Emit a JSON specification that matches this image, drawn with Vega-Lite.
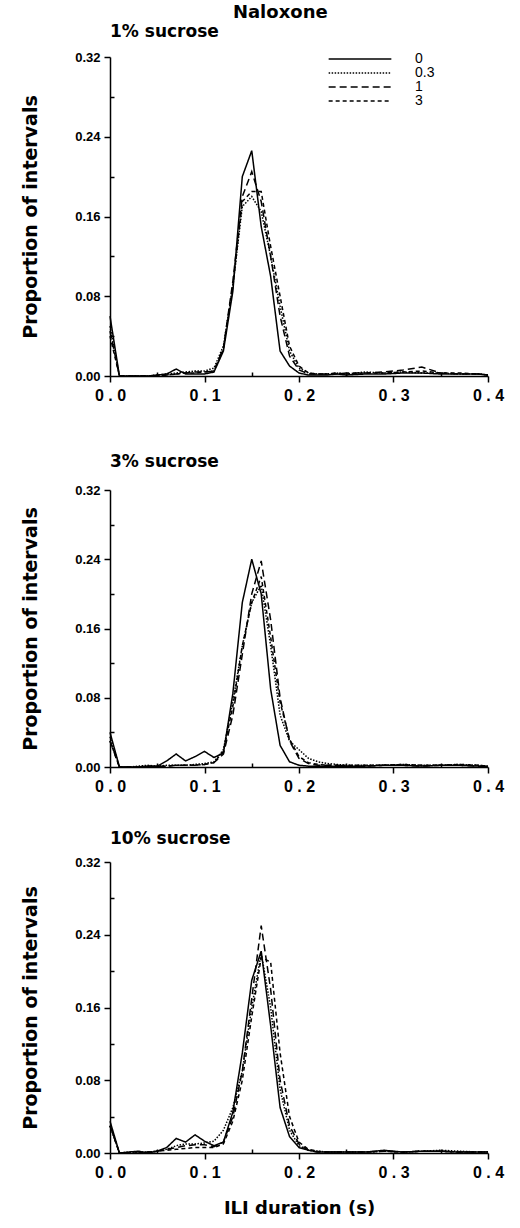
{
"$schema": "https://vega.github.io/schema/vega-lite/v6.json",
"padding": {"left": 20, "top": 4, "right": 10, "bottom": 5},
"title": {"text": "Naloxone", "fontSize": 18, "fontWeight": "bold", "anchor": "middle", "frame": "bounds", "offset": 1, "dx": 18, "font": "DejaVu Sans", "color": "black"},
"data": {"values": [
{"p":1,"d":"0","x":0,"y":0.06},{"p":1,"d":"0","x":0.01,"y":0},{"p":1,"d":"0","x":0.02,"y":0},{"p":1,"d":"0","x":0.03,"y":0},{"p":1,"d":"0","x":0.04,"y":0},{"p":1,"d":"0","x":0.05,"y":0.001},{"p":1,"d":"0","x":0.06,"y":0.002},{"p":1,"d":"0","x":0.07,"y":0.007},{"p":1,"d":"0","x":0.08,"y":0.002},{"p":1,"d":"0","x":0.09,"y":0.002},{"p":1,"d":"0","x":0.1,"y":0.002},{"p":1,"d":"0","x":0.11,"y":0.004},{"p":1,"d":"0","x":0.12,"y":0.025},{"p":1,"d":"0","x":0.13,"y":0.085},{"p":1,"d":"0","x":0.14,"y":0.2},{"p":1,"d":"0","x":0.15,"y":0.226},{"p":1,"d":"0","x":0.16,"y":0.15},{"p":1,"d":"0","x":0.17,"y":0.1},{"p":1,"d":"0","x":0.18,"y":0.025},{"p":1,"d":"0","x":0.19,"y":0.01},{"p":1,"d":"0","x":0.2,"y":0.003},{"p":1,"d":"0","x":0.21,"y":0.001},{"p":1,"d":"0","x":0.22,"y":0.001},{"p":1,"d":"0","x":0.23,"y":0.001},{"p":1,"d":"0","x":0.24,"y":0.002},{"p":1,"d":"0","x":0.25,"y":0.001},{"p":1,"d":"0","x":0.27,"y":0.002},{"p":1,"d":"0","x":0.29,"y":0.002},{"p":1,"d":"0","x":0.31,"y":0.003},{"p":1,"d":"0","x":0.33,"y":0.003},{"p":1,"d":"0","x":0.35,"y":0.002},{"p":1,"d":"0","x":0.37,"y":0.002},{"p":1,"d":"0","x":0.39,"y":0.002},{"p":1,"d":"0","x":0.4,"y":0.001},
{"p":1,"d":"0.3","x":0,"y":0.05},{"p":1,"d":"0.3","x":0.01,"y":0},{"p":1,"d":"0.3","x":0.02,"y":0},{"p":1,"d":"0.3","x":0.03,"y":0},{"p":1,"d":"0.3","x":0.04,"y":0},{"p":1,"d":"0.3","x":0.05,"y":0.001},{"p":1,"d":"0.3","x":0.06,"y":0.002},{"p":1,"d":"0.3","x":0.07,"y":0.003},{"p":1,"d":"0.3","x":0.08,"y":0.004},{"p":1,"d":"0.3","x":0.09,"y":0.005},{"p":1,"d":"0.3","x":0.1,"y":0.005},{"p":1,"d":"0.3","x":0.11,"y":0.008},{"p":1,"d":"0.3","x":0.12,"y":0.03},{"p":1,"d":"0.3","x":0.13,"y":0.09},{"p":1,"d":"0.3","x":0.14,"y":0.17},{"p":1,"d":"0.3","x":0.15,"y":0.18},{"p":1,"d":"0.3","x":0.16,"y":0.165},{"p":1,"d":"0.3","x":0.17,"y":0.12},{"p":1,"d":"0.3","x":0.18,"y":0.07},{"p":1,"d":"0.3","x":0.19,"y":0.025},{"p":1,"d":"0.3","x":0.2,"y":0.008},{"p":1,"d":"0.3","x":0.21,"y":0.003},{"p":1,"d":"0.3","x":0.22,"y":0.002},{"p":1,"d":"0.3","x":0.23,"y":0.002},{"p":1,"d":"0.3","x":0.24,"y":0.003},{"p":1,"d":"0.3","x":0.25,"y":0.002},{"p":1,"d":"0.3","x":0.27,"y":0.004},{"p":1,"d":"0.3","x":0.29,"y":0.003},{"p":1,"d":"0.3","x":0.31,"y":0.004},{"p":1,"d":"0.3","x":0.33,"y":0.003},{"p":1,"d":"0.3","x":0.35,"y":0.003},{"p":1,"d":"0.3","x":0.37,"y":0.002},{"p":1,"d":"0.3","x":0.39,"y":0.002},{"p":1,"d":"0.3","x":0.4,"y":0.001},
{"p":1,"d":"1","x":0,"y":0.045},{"p":1,"d":"1","x":0.01,"y":0},{"p":1,"d":"1","x":0.02,"y":0},{"p":1,"d":"1","x":0.03,"y":0},{"p":1,"d":"1","x":0.04,"y":0},{"p":1,"d":"1","x":0.05,"y":0},{"p":1,"d":"1","x":0.06,"y":0.001},{"p":1,"d":"1","x":0.07,"y":0.002},{"p":1,"d":"1","x":0.08,"y":0.003},{"p":1,"d":"1","x":0.09,"y":0.004},{"p":1,"d":"1","x":0.1,"y":0.004},{"p":1,"d":"1","x":0.11,"y":0.005},{"p":1,"d":"1","x":0.12,"y":0.028},{"p":1,"d":"1","x":0.13,"y":0.095},{"p":1,"d":"1","x":0.14,"y":0.18},{"p":1,"d":"1","x":0.15,"y":0.205},{"p":1,"d":"1","x":0.16,"y":0.175},{"p":1,"d":"1","x":0.17,"y":0.12},{"p":1,"d":"1","x":0.18,"y":0.06},{"p":1,"d":"1","x":0.19,"y":0.02},{"p":1,"d":"1","x":0.2,"y":0.006},{"p":1,"d":"1","x":0.21,"y":0.002},{"p":1,"d":"1","x":0.22,"y":0.002},{"p":1,"d":"1","x":0.23,"y":0.002},{"p":1,"d":"1","x":0.24,"y":0.002},{"p":1,"d":"1","x":0.25,"y":0.003},{"p":1,"d":"1","x":0.27,"y":0.003},{"p":1,"d":"1","x":0.29,"y":0.004},{"p":1,"d":"1","x":0.31,"y":0.006},{"p":1,"d":"1","x":0.33,"y":0.009},{"p":1,"d":"1","x":0.35,"y":0.003},{"p":1,"d":"1","x":0.37,"y":0.002},{"p":1,"d":"1","x":0.39,"y":0.002},{"p":1,"d":"1","x":0.4,"y":0.001},
{"p":1,"d":"3","x":0,"y":0.04},{"p":1,"d":"3","x":0.01,"y":0},{"p":1,"d":"3","x":0.02,"y":0},{"p":1,"d":"3","x":0.03,"y":0},{"p":1,"d":"3","x":0.04,"y":0},{"p":1,"d":"3","x":0.05,"y":0},{"p":1,"d":"3","x":0.06,"y":0.001},{"p":1,"d":"3","x":0.07,"y":0.002},{"p":1,"d":"3","x":0.08,"y":0.003},{"p":1,"d":"3","x":0.09,"y":0.003},{"p":1,"d":"3","x":0.1,"y":0.004},{"p":1,"d":"3","x":0.11,"y":0.005},{"p":1,"d":"3","x":0.12,"y":0.027},{"p":1,"d":"3","x":0.13,"y":0.09},{"p":1,"d":"3","x":0.14,"y":0.175},{"p":1,"d":"3","x":0.15,"y":0.185},{"p":1,"d":"3","x":0.16,"y":0.185},{"p":1,"d":"3","x":0.17,"y":0.13},{"p":1,"d":"3","x":0.18,"y":0.08},{"p":1,"d":"3","x":0.19,"y":0.03},{"p":1,"d":"3","x":0.2,"y":0.01},{"p":1,"d":"3","x":0.21,"y":0.003},{"p":1,"d":"3","x":0.22,"y":0.002},{"p":1,"d":"3","x":0.23,"y":0.002},{"p":1,"d":"3","x":0.24,"y":0.003},{"p":1,"d":"3","x":0.25,"y":0.002},{"p":1,"d":"3","x":0.27,"y":0.003},{"p":1,"d":"3","x":0.29,"y":0.003},{"p":1,"d":"3","x":0.31,"y":0.004},{"p":1,"d":"3","x":0.33,"y":0.005},{"p":1,"d":"3","x":0.35,"y":0.003},{"p":1,"d":"3","x":0.37,"y":0.003},{"p":1,"d":"3","x":0.39,"y":0.002},{"p":1,"d":"3","x":0.4,"y":0.001},
{"p":3,"d":"0","x":0,"y":0.04},{"p":3,"d":"0","x":0.01,"y":0},{"p":3,"d":"0","x":0.02,"y":0},{"p":3,"d":"0","x":0.03,"y":0},{"p":3,"d":"0","x":0.04,"y":0.001},{"p":3,"d":"0","x":0.05,"y":0.001},{"p":3,"d":"0","x":0.06,"y":0.007},{"p":3,"d":"0","x":0.07,"y":0.015},{"p":3,"d":"0","x":0.08,"y":0.007},{"p":3,"d":"0","x":0.09,"y":0.012},{"p":3,"d":"0","x":0.1,"y":0.018},{"p":3,"d":"0","x":0.11,"y":0.011},{"p":3,"d":"0","x":0.12,"y":0.016},{"p":3,"d":"0","x":0.13,"y":0.085},{"p":3,"d":"0","x":0.14,"y":0.19},{"p":3,"d":"0","x":0.15,"y":0.24},{"p":3,"d":"0","x":0.16,"y":0.2},{"p":3,"d":"0","x":0.17,"y":0.09},{"p":3,"d":"0","x":0.18,"y":0.025},{"p":3,"d":"0","x":0.19,"y":0.006},{"p":3,"d":"0","x":0.2,"y":0.002},{"p":3,"d":"0","x":0.21,"y":0.001},{"p":3,"d":"0","x":0.22,"y":0.001},{"p":3,"d":"0","x":0.23,"y":0.001},{"p":3,"d":"0","x":0.24,"y":0.001},{"p":3,"d":"0","x":0.25,"y":0.001},{"p":3,"d":"0","x":0.27,"y":0.001},{"p":3,"d":"0","x":0.29,"y":0.002},{"p":3,"d":"0","x":0.31,"y":0.002},{"p":3,"d":"0","x":0.33,"y":0.001},{"p":3,"d":"0","x":0.35,"y":0.002},{"p":3,"d":"0","x":0.37,"y":0.002},{"p":3,"d":"0","x":0.39,"y":0.001},{"p":3,"d":"0","x":0.4,"y":0.001},
{"p":3,"d":"0.3","x":0,"y":0.035},{"p":3,"d":"0.3","x":0.01,"y":0},{"p":3,"d":"0.3","x":0.02,"y":0},{"p":3,"d":"0.3","x":0.03,"y":0.001},{"p":3,"d":"0.3","x":0.04,"y":0.002},{"p":3,"d":"0.3","x":0.05,"y":0.001},{"p":3,"d":"0.3","x":0.06,"y":0.002},{"p":3,"d":"0.3","x":0.07,"y":0.002},{"p":3,"d":"0.3","x":0.08,"y":0.002},{"p":3,"d":"0.3","x":0.09,"y":0.003},{"p":3,"d":"0.3","x":0.1,"y":0.004},{"p":3,"d":"0.3","x":0.11,"y":0.006},{"p":3,"d":"0.3","x":0.12,"y":0.02},{"p":3,"d":"0.3","x":0.13,"y":0.075},{"p":3,"d":"0.3","x":0.14,"y":0.14},{"p":3,"d":"0.3","x":0.15,"y":0.19},{"p":3,"d":"0.3","x":0.16,"y":0.21},{"p":3,"d":"0.3","x":0.17,"y":0.14},{"p":3,"d":"0.3","x":0.18,"y":0.06},{"p":3,"d":"0.3","x":0.19,"y":0.03},{"p":3,"d":"0.3","x":0.2,"y":0.02},{"p":3,"d":"0.3","x":0.21,"y":0.01},{"p":3,"d":"0.3","x":0.22,"y":0.006},{"p":3,"d":"0.3","x":0.23,"y":0.004},{"p":3,"d":"0.3","x":0.24,"y":0.003},{"p":3,"d":"0.3","x":0.25,"y":0.002},{"p":3,"d":"0.3","x":0.27,"y":0.002},{"p":3,"d":"0.3","x":0.29,"y":0.002},{"p":3,"d":"0.3","x":0.31,"y":0.003},{"p":3,"d":"0.3","x":0.33,"y":0.002},{"p":3,"d":"0.3","x":0.35,"y":0.002},{"p":3,"d":"0.3","x":0.37,"y":0.003},{"p":3,"d":"0.3","x":0.39,"y":0.002},{"p":3,"d":"0.3","x":0.4,"y":0.001},
{"p":3,"d":"1","x":0,"y":0.03},{"p":3,"d":"1","x":0.01,"y":0},{"p":3,"d":"1","x":0.02,"y":0},{"p":3,"d":"1","x":0.03,"y":0},{"p":3,"d":"1","x":0.04,"y":0.001},{"p":3,"d":"1","x":0.05,"y":0.001},{"p":3,"d":"1","x":0.06,"y":0.001},{"p":3,"d":"1","x":0.07,"y":0.002},{"p":3,"d":"1","x":0.08,"y":0.002},{"p":3,"d":"1","x":0.09,"y":0.002},{"p":3,"d":"1","x":0.1,"y":0.003},{"p":3,"d":"1","x":0.11,"y":0.005},{"p":3,"d":"1","x":0.12,"y":0.015},{"p":3,"d":"1","x":0.13,"y":0.06},{"p":3,"d":"1","x":0.14,"y":0.13},{"p":3,"d":"1","x":0.15,"y":0.2},{"p":3,"d":"1","x":0.16,"y":0.238},{"p":3,"d":"1","x":0.17,"y":0.17},{"p":3,"d":"1","x":0.18,"y":0.08},{"p":3,"d":"1","x":0.19,"y":0.03},{"p":3,"d":"1","x":0.2,"y":0.01},{"p":3,"d":"1","x":0.21,"y":0.004},{"p":3,"d":"1","x":0.22,"y":0.002},{"p":3,"d":"1","x":0.23,"y":0.002},{"p":3,"d":"1","x":0.24,"y":0.002},{"p":3,"d":"1","x":0.25,"y":0.001},{"p":3,"d":"1","x":0.27,"y":0.001},{"p":3,"d":"1","x":0.29,"y":0.002},{"p":3,"d":"1","x":0.31,"y":0.002},{"p":3,"d":"1","x":0.33,"y":0.001},{"p":3,"d":"1","x":0.35,"y":0.002},{"p":3,"d":"1","x":0.37,"y":0.002},{"p":3,"d":"1","x":0.39,"y":0.001},{"p":3,"d":"1","x":0.4,"y":0.001},
{"p":3,"d":"3","x":0,"y":0.03},{"p":3,"d":"3","x":0.01,"y":0},{"p":3,"d":"3","x":0.02,"y":0},{"p":3,"d":"3","x":0.03,"y":0},{"p":3,"d":"3","x":0.04,"y":0.001},{"p":3,"d":"3","x":0.05,"y":0.001},{"p":3,"d":"3","x":0.06,"y":0.001},{"p":3,"d":"3","x":0.07,"y":0.002},{"p":3,"d":"3","x":0.08,"y":0.002},{"p":3,"d":"3","x":0.09,"y":0.002},{"p":3,"d":"3","x":0.1,"y":0.003},{"p":3,"d":"3","x":0.11,"y":0.005},{"p":3,"d":"3","x":0.12,"y":0.018},{"p":3,"d":"3","x":0.13,"y":0.07},{"p":3,"d":"3","x":0.14,"y":0.14},{"p":3,"d":"3","x":0.15,"y":0.19},{"p":3,"d":"3","x":0.16,"y":0.22},{"p":3,"d":"3","x":0.17,"y":0.15},{"p":3,"d":"3","x":0.18,"y":0.075},{"p":3,"d":"3","x":0.19,"y":0.032},{"p":3,"d":"3","x":0.2,"y":0.012},{"p":3,"d":"3","x":0.21,"y":0.005},{"p":3,"d":"3","x":0.22,"y":0.003},{"p":3,"d":"3","x":0.23,"y":0.002},{"p":3,"d":"3","x":0.24,"y":0.002},{"p":3,"d":"3","x":0.25,"y":0.002},{"p":3,"d":"3","x":0.27,"y":0.002},{"p":3,"d":"3","x":0.29,"y":0.002},{"p":3,"d":"3","x":0.31,"y":0.003},{"p":3,"d":"3","x":0.33,"y":0.002},{"p":3,"d":"3","x":0.35,"y":0.002},{"p":3,"d":"3","x":0.37,"y":0.003},{"p":3,"d":"3","x":0.39,"y":0.002},{"p":3,"d":"3","x":0.4,"y":0.001},
{"p":10,"d":"0","x":0,"y":0.035},{"p":10,"d":"0","x":0.01,"y":0},{"p":10,"d":"0","x":0.02,"y":0.001},{"p":10,"d":"0","x":0.03,"y":0.002},{"p":10,"d":"0","x":0.04,"y":0},{"p":10,"d":"0","x":0.05,"y":0.002},{"p":10,"d":"0","x":0.06,"y":0.006},{"p":10,"d":"0","x":0.07,"y":0.016},{"p":10,"d":"0","x":0.08,"y":0.012},{"p":10,"d":"0","x":0.09,"y":0.02},{"p":10,"d":"0","x":0.1,"y":0.013},{"p":10,"d":"0","x":0.11,"y":0.008},{"p":10,"d":"0","x":0.12,"y":0.012},{"p":10,"d":"0","x":0.13,"y":0.045},{"p":10,"d":"0","x":0.14,"y":0.11},{"p":10,"d":"0","x":0.15,"y":0.19},{"p":10,"d":"0","x":0.16,"y":0.222},{"p":10,"d":"0","x":0.17,"y":0.14},{"p":10,"d":"0","x":0.18,"y":0.05},{"p":10,"d":"0","x":0.19,"y":0.018},{"p":10,"d":"0","x":0.2,"y":0.006},{"p":10,"d":"0","x":0.21,"y":0.003},{"p":10,"d":"0","x":0.22,"y":0.001},{"p":10,"d":"0","x":0.23,"y":0.001},{"p":10,"d":"0","x":0.24,"y":0.001},{"p":10,"d":"0","x":0.25,"y":0.001},{"p":10,"d":"0","x":0.27,"y":0.001},{"p":10,"d":"0","x":0.29,"y":0.003},{"p":10,"d":"0","x":0.31,"y":0.001},{"p":10,"d":"0","x":0.33,"y":0.002},{"p":10,"d":"0","x":0.35,"y":0.002},{"p":10,"d":"0","x":0.37,"y":0.001},{"p":10,"d":"0","x":0.39,"y":0.001},{"p":10,"d":"0","x":0.4,"y":0.001},
{"p":10,"d":"0.3","x":0,"y":0.03},{"p":10,"d":"0.3","x":0.01,"y":0},{"p":10,"d":"0.3","x":0.02,"y":0.001},{"p":10,"d":"0.3","x":0.03,"y":0.001},{"p":10,"d":"0.3","x":0.04,"y":0.001},{"p":10,"d":"0.3","x":0.05,"y":0.002},{"p":10,"d":"0.3","x":0.06,"y":0.004},{"p":10,"d":"0.3","x":0.07,"y":0.008},{"p":10,"d":"0.3","x":0.08,"y":0.01},{"p":10,"d":"0.3","x":0.09,"y":0.01},{"p":10,"d":"0.3","x":0.1,"y":0.011},{"p":10,"d":"0.3","x":0.11,"y":0.013},{"p":10,"d":"0.3","x":0.12,"y":0.025},{"p":10,"d":"0.3","x":0.13,"y":0.05},{"p":10,"d":"0.3","x":0.14,"y":0.09},{"p":10,"d":"0.3","x":0.15,"y":0.16},{"p":10,"d":"0.3","x":0.16,"y":0.22},{"p":10,"d":"0.3","x":0.17,"y":0.16},{"p":10,"d":"0.3","x":0.18,"y":0.07},{"p":10,"d":"0.3","x":0.19,"y":0.025},{"p":10,"d":"0.3","x":0.2,"y":0.008},{"p":10,"d":"0.3","x":0.21,"y":0.003},{"p":10,"d":"0.3","x":0.22,"y":0.002},{"p":10,"d":"0.3","x":0.23,"y":0.001},{"p":10,"d":"0.3","x":0.24,"y":0.001},{"p":10,"d":"0.3","x":0.25,"y":0.001},{"p":10,"d":"0.3","x":0.27,"y":0.001},{"p":10,"d":"0.3","x":0.29,"y":0.002},{"p":10,"d":"0.3","x":0.31,"y":0.001},{"p":10,"d":"0.3","x":0.33,"y":0.002},{"p":10,"d":"0.3","x":0.35,"y":0.003},{"p":10,"d":"0.3","x":0.37,"y":0.002},{"p":10,"d":"0.3","x":0.39,"y":0.001},{"p":10,"d":"0.3","x":0.4,"y":0.001},
{"p":10,"d":"1","x":0,"y":0.03},{"p":10,"d":"1","x":0.01,"y":0},{"p":10,"d":"1","x":0.02,"y":0},{"p":10,"d":"1","x":0.03,"y":0},{"p":10,"d":"1","x":0.04,"y":0.001},{"p":10,"d":"1","x":0.05,"y":0.002},{"p":10,"d":"1","x":0.06,"y":0.004},{"p":10,"d":"1","x":0.07,"y":0.006},{"p":10,"d":"1","x":0.08,"y":0.008},{"p":10,"d":"1","x":0.09,"y":0.009},{"p":10,"d":"1","x":0.1,"y":0.009},{"p":10,"d":"1","x":0.11,"y":0.007},{"p":10,"d":"1","x":0.12,"y":0.012},{"p":10,"d":"1","x":0.13,"y":0.04},{"p":10,"d":"1","x":0.14,"y":0.09},{"p":10,"d":"1","x":0.15,"y":0.17},{"p":10,"d":"1","x":0.16,"y":0.25},{"p":10,"d":"1","x":0.17,"y":0.18},{"p":10,"d":"1","x":0.18,"y":0.08},{"p":10,"d":"1","x":0.19,"y":0.03},{"p":10,"d":"1","x":0.2,"y":0.01},{"p":10,"d":"1","x":0.21,"y":0.003},{"p":10,"d":"1","x":0.22,"y":0.001},{"p":10,"d":"1","x":0.23,"y":0.001},{"p":10,"d":"1","x":0.24,"y":0.001},{"p":10,"d":"1","x":0.25,"y":0.001},{"p":10,"d":"1","x":0.27,"y":0.001},{"p":10,"d":"1","x":0.29,"y":0.002},{"p":10,"d":"1","x":0.31,"y":0.001},{"p":10,"d":"1","x":0.33,"y":0.002},{"p":10,"d":"1","x":0.35,"y":0.002},{"p":10,"d":"1","x":0.37,"y":0.001},{"p":10,"d":"1","x":0.39,"y":0.001},{"p":10,"d":"1","x":0.4,"y":0.001},
{"p":10,"d":"3","x":0,"y":0.03},{"p":10,"d":"3","x":0.01,"y":0},{"p":10,"d":"3","x":0.02,"y":0},{"p":10,"d":"3","x":0.03,"y":0},{"p":10,"d":"3","x":0.04,"y":0.001},{"p":10,"d":"3","x":0.05,"y":0.002},{"p":10,"d":"3","x":0.06,"y":0.003},{"p":10,"d":"3","x":0.07,"y":0.004},{"p":10,"d":"3","x":0.08,"y":0.005},{"p":10,"d":"3","x":0.09,"y":0.006},{"p":10,"d":"3","x":0.1,"y":0.006},{"p":10,"d":"3","x":0.11,"y":0.006},{"p":10,"d":"3","x":0.12,"y":0.01},{"p":10,"d":"3","x":0.13,"y":0.035},{"p":10,"d":"3","x":0.14,"y":0.08},{"p":10,"d":"3","x":0.15,"y":0.15},{"p":10,"d":"3","x":0.16,"y":0.215},{"p":10,"d":"3","x":0.17,"y":0.21},{"p":10,"d":"3","x":0.18,"y":0.11},{"p":10,"d":"3","x":0.19,"y":0.04},{"p":10,"d":"3","x":0.2,"y":0.012},{"p":10,"d":"3","x":0.21,"y":0.004},{"p":10,"d":"3","x":0.22,"y":0.002},{"p":10,"d":"3","x":0.23,"y":0.001},{"p":10,"d":"3","x":0.24,"y":0.001},{"p":10,"d":"3","x":0.25,"y":0.001},{"p":10,"d":"3","x":0.27,"y":0.001},{"p":10,"d":"3","x":0.29,"y":0.002},{"p":10,"d":"3","x":0.31,"y":0.001},{"p":10,"d":"3","x":0.33,"y":0.002},{"p":10,"d":"3","x":0.35,"y":0.002},{"p":10,"d":"3","x":0.37,"y":0.001},{"p":10,"d":"3","x":0.39,"y":0.001},{"p":10,"d":"3","x":0.4,"y":0.001}
]},
"spacing": 50,
"resolve": {"legend": {"strokeDash": "independent"}},
"vconcat": [
{
 "width": 378, "height": 319,
 "title": {"text": "1% sucrose", "offset": 10},
 "transform": [{"filter": "datum.p == 1"}],
 "mark": {"type": "line", "color": "black", "strokeWidth": 1.5},
 "encoding": {
  "x": {"field": "x", "type": "quantitative", "scale": {"domain": [0, 0.4], "nice": false}, "axis": {"title": null, "values": [0, 0.05, 0.1, 0.15, 0.2, 0.25, 0.3, 0.35, 0.4]}},
  "y": {"field": "y", "type": "quantitative", "scale": {"domain": [0, 0.32], "nice": false}, "axis": {"title": "Proportion of intervals", "values": [0, 0.04, 0.08, 0.12, 0.16, 0.2, 0.24, 0.28, 0.32]}},
  "strokeDash": {"field": "d", "type": "nominal", "scale": {"domain": ["0", "0.3", "1", "3"], "range": [[1, 0], [1.5, 1.5], [7, 4], [4, 3]]},
   "legend": {"orient": "none", "legendX": 243, "legendY": -5, "title": null, "symbolType": "M-5.7,0H5.7", "symbolSize": 121, "symbolStrokeWidth": 1.5, "symbolStrokeColor": "black", "symbolFillColor": "transparent", "labelOffset": 48, "labelFontSize": 14, "labelFont": "Liberation Sans", "labelColor": "black", "rowPadding": 0, "padding": 0}}
 }
},
{
 "spacing": 36,
 "vconcat": [
 {
  "width": 378, "height": 277,
  "title": {"text": "3% sucrose", "offset": 13},
  "transform": [{"filter": "datum.p == 3"}],
  "mark": {"type": "line", "color": "black", "strokeWidth": 1.5},
  "encoding": {
   "x": {"field": "x", "type": "quantitative", "scale": {"domain": [0, 0.4], "nice": false}, "axis": {"title": null, "values": [0, 0.05, 0.1, 0.15, 0.2, 0.25, 0.3, 0.35, 0.4]}},
   "y": {"field": "y", "type": "quantitative", "scale": {"domain": [0, 0.32], "nice": false}, "axis": {"title": "Proportion of intervals", "values": [0, 0.04, 0.08, 0.12, 0.16, 0.2, 0.24, 0.28, 0.32]}},
   "strokeDash": {"field": "d", "type": "nominal", "scale": {"domain": ["0", "0.3", "1", "3"], "range": [[1, 0], [1.5, 1.5], [7, 4], [4, 3]]}, "legend": null}
  }
 },
 {
  "width": 378, "height": 291,
  "title": {"text": "10% sucrose", "offset": 8},
  "transform": [{"filter": "datum.p == 10"}],
  "mark": {"type": "line", "color": "black", "strokeWidth": 1.5},
  "encoding": {
   "x": {"field": "x", "type": "quantitative", "scale": {"domain": [0, 0.4], "nice": false}, "axis": {"title": "ILI duration (s)", "values": [0, 0.05, 0.1, 0.15, 0.2, 0.25, 0.3, 0.35, 0.4], "titleFontSize": 18, "titlePadding": 19, "titleFont": "DejaVu Sans"}},
   "y": {"field": "y", "type": "quantitative", "scale": {"domain": [0, 0.32], "nice": false}, "axis": {"title": "Proportion of intervals", "values": [0, 0.04, 0.08, 0.12, 0.16, 0.2, 0.24, 0.28, 0.32]}},
   "strokeDash": {"field": "d", "type": "nominal", "scale": {"domain": ["0", "0.3", "1", "3"], "range": [[1, 0], [1.5, 1.5], [7, 4], [4, 3]]}, "legend": null}
  }
 }
 ]
}
],
"config": {
 "view": {"stroke": null},
 "font": "Liberation Sans",
 "title": {"anchor": "start", "frame": "group", "fontSize": 17, "fontWeight": "bold", "color": "black", "font": "DejaVu Sans"},
 "axis": {"grid": false, "domainColor": "black", "tickColor": "black", "labelColor": "black", "titleColor": "black", "domainWidth": 1.5, "tickWidth": 1.5, "labelFont": "Liberation Sans", "titleFont": "DejaVu Sans", "labelFontWeight": "bold", "titleFontWeight": "bold", "labelOverlap": false},
 "axisX": {"labelExpr": "round(datum.value*100) % 10 == 0 ? replace(format(datum.value,'.1f'),'.',' . ') : ''", "tickSize": {"condition": {"test": "round(datum.value*100) % 10 != 0", "value": -4}, "value": 6}, "labelFontSize": 16, "labelPadding": 5, "labelFlush": false},
 "axisY": {"labelExpr": "round(datum.value*100) % 8 == 0 ? format(datum.value,'.2f') : ''", "tickSize": {"condition": {"test": "round(datum.value*100) % 8 != 0", "value": -4}, "value": 6}, "labelFontSize": 13, "labelPadding": 4, "titleFontSize": 19, "titlePadding": 30, "minExtent": 40, "maxExtent": 40}
}
}
